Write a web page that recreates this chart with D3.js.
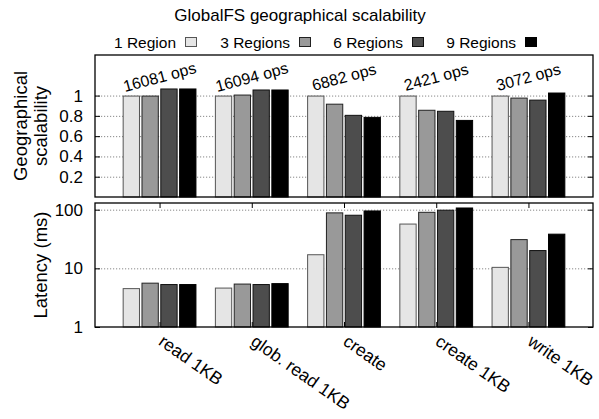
<!DOCTYPE html>
<html>
<head>
<meta charset="utf-8">
<script src="https://cdn.jsdelivr.net/npm/d3@7"></script>
<style>
  body { margin: 0; background: #fff; }
  svg { font-family: "Liberation Sans", Arial, Helvetica, sans-serif; }
</style>
</head>
<body>
<svg id="chart" width="599" height="419"></svg>
<script>
// data
const categories = ["read 1KB", "glob. read 1KB", "create", "create 1KB", "write 1KB"];
const series = ["1 Region", "3 Regions", "6 Regions", "9 Regions"];
const opsLabels = ["16081 ops", "16094 ops", "6882 ops", "2421 ops", "3072 ops"];

// geographical scalability, one array per series
const scal1 = [1.00, 1.00, 1.00, 1.00, 1.00];
const scal3 = [1.00, 1.01, 0.92, 0.86, 0.98];
const scal6 = [1.07, 1.06, 0.81, 0.85, 0.96];
const scal9 = [1.07, 1.06, 0.79, 0.76, 1.03];

// latency in ms
const lat1 = [4.6, 4.7, 17.4, 58, 10.6];
const lat3 = [5.7, 5.5, 90, 92, 31.5];
const lat6 = [5.4, 5.4, 82, 100, 20.5];
const lat9 = [5.4, 5.6, 97, 109, 39];

const scalTicks = [0.2, 0.4, 0.6, 0.8, 1];
const latTicks = [1, 10, 100];

const colors = ["#e5e5e5", "#999999", "#4d4d4d", "#000000"];
const borders = ["#555555", "#222222", "#111111", "#000000"];

const scalData = [scal1, scal3, scal6, scal9];
const latData = [lat1, lat3, lat6, lat9];

const svg = d3.select("#chart");
const left = 95, right = 593;
const top1 = 55, bot1 = 197;
const top2 = 203, bot2 = 327;

const x0 = d3.scalePoint().domain(categories).range([left, right]).padding(0.7);
const step = x0.step();
const x1 = d3.scaleBand().domain(series).range([-step * 0.4, step * 0.4]).paddingInner(0.08);

const yTop = d3.scaleLinear().domain([0, 1.4]).range([bot1, top1]);
const yBot = d3.scaleLog().domain([1, 130]).range([bot2, top2]);

// title
svg.append("text")
  .attr("x", 300).attr("y", 21)
  .attr("text-anchor", "middle")
  .attr("font-size", 17)
  .text("GlobalFS geographical scalability");

// legend
const legendX = [185, 299, 412, 525];
series.forEach((s, i) => {
  svg.append("text")
    .attr("x", legendX[i] - 9).attr("y", 48)
    .attr("text-anchor", "end")
    .attr("font-size", 15.5)
    .text(s);
  svg.append("rect")
    .attr("x", legendX[i] + 0.5).attr("y", 37.5)
    .attr("width", 11).attr("height", 9)
    .attr("fill", colors[i])
    .attr("stroke", borders[i]);
});

function panel(y, yt, data, tickFormat, xTicks) {
  const g = svg.append("g");

  // dotted grid
  g.append("g")
    .attr("transform", `translate(${left},0)`)
    .call(d3.axisLeft(y).tickValues(yt.filter(v => v !== y.domain()[0])).tickSize(-(right - left)).tickFormat(""))
    .call(a => a.select(".domain").remove())
    .selectAll("line")
    .attr("stroke", "#888")
    .attr("stroke-dasharray", "1.2,1.8");

  if (xTicks) {
    g.append("g")
      .attr("transform", `translate(0,${y.range()[1]})`)
      .call(d3.axisTop(x0).tickSize(-5).tickFormat(""))
      .call(a => a.select(".domain").remove())
      .selectAll("line").attr("stroke", "#000");
    g.append("g")
      .attr("transform", `translate(0,${y.range()[0]})`)
      .call(d3.axisBottom(x0).tickSize(-5).tickFormat(""))
      .call(a => a.select(".domain").remove())
      .selectAll("line").attr("stroke", "#000");
  }

  // bars
  series.forEach((s, si) => {
    g.append("g").selectAll("rect")
      .data(data[si])
      .join("rect")
      .attr("x", (d, i) => x0(categories[i]) + x1(s) + 0.5)
      .attr("y", d => y(d) + 0.5)
      .attr("width", x1.bandwidth() - 1)
      .attr("height", d => y.range()[0] - y(d) - 0.5)
      .attr("fill", colors[si])
      .attr("stroke", borders[si])
      .attr("stroke-width", 1);
  });

  // left axis with inward ticks
  g.append("g")
    .attr("transform", `translate(${left},0)`)
    .call(d3.axisLeft(y).tickValues(yt).tickSize(-5).tickPadding(12).tickFormat(tickFormat))
    .call(a => a.select(".domain").remove())
    .call(a => a.selectAll("text").attr("font-size", 17).attr("fill", "#000").attr("font-family", null))
    .selectAll("line").attr("stroke", "#000");

  // right mirrored ticks
  g.append("g")
    .attr("transform", `translate(${right},0)`)
    .call(d3.axisRight(y).tickValues(yt).tickSize(-5).tickFormat(""))
    .call(a => a.select(".domain").remove())
    .selectAll("line").attr("stroke", "#000");

  // frame
  g.append("rect")
    .attr("x", left).attr("y", y.range()[1])
    .attr("width", right - left).attr("height", y.range()[0] - y.range()[1])
    .attr("fill", "none").attr("stroke", "#000").attr("stroke-width", 1.3);
}

panel(yTop, scalTicks, scalData, d3.format("~g"), false);
panel(yBot, latTicks, latData, d3.format("d"), true);

// ops labels above groups
categories.forEach((c, i) => {
  svg.append("text")
    .attr("transform", `translate(${x0(c)},${77}) rotate(-15)`)
    .attr("text-anchor", "middle")
    .attr("dy", "0.35em")
    .attr("font-size", 16)
    .text(opsLabels[i]);
});

// x category labels
categories.forEach(c => {
  svg.append("text")
    .attr("transform", `translate(${x0(c) - 2},${344}) rotate(35)`)
    .attr("font-size", 17.5)
    .text(c);
});

// y axis titles
const t1 = svg.append("text")
  .attr("transform", `translate(26.5,${(top1 + bot1) / 2}) rotate(-90)`)
  .attr("text-anchor", "middle")
  .attr("font-size", 18.5);
t1.append("tspan").attr("x", 0).attr("y", 0).text("Geographical");
t1.append("tspan").attr("x", 0).attr("y", 20).text("scalability");

svg.append("text")
  .attr("transform", `translate(47,${(top2 + bot2) / 2}) rotate(-90)`)
  .attr("text-anchor", "middle")
  .attr("font-size", 18.5)
  .text("Latency (ms)");
</script>
</body>
</html>
